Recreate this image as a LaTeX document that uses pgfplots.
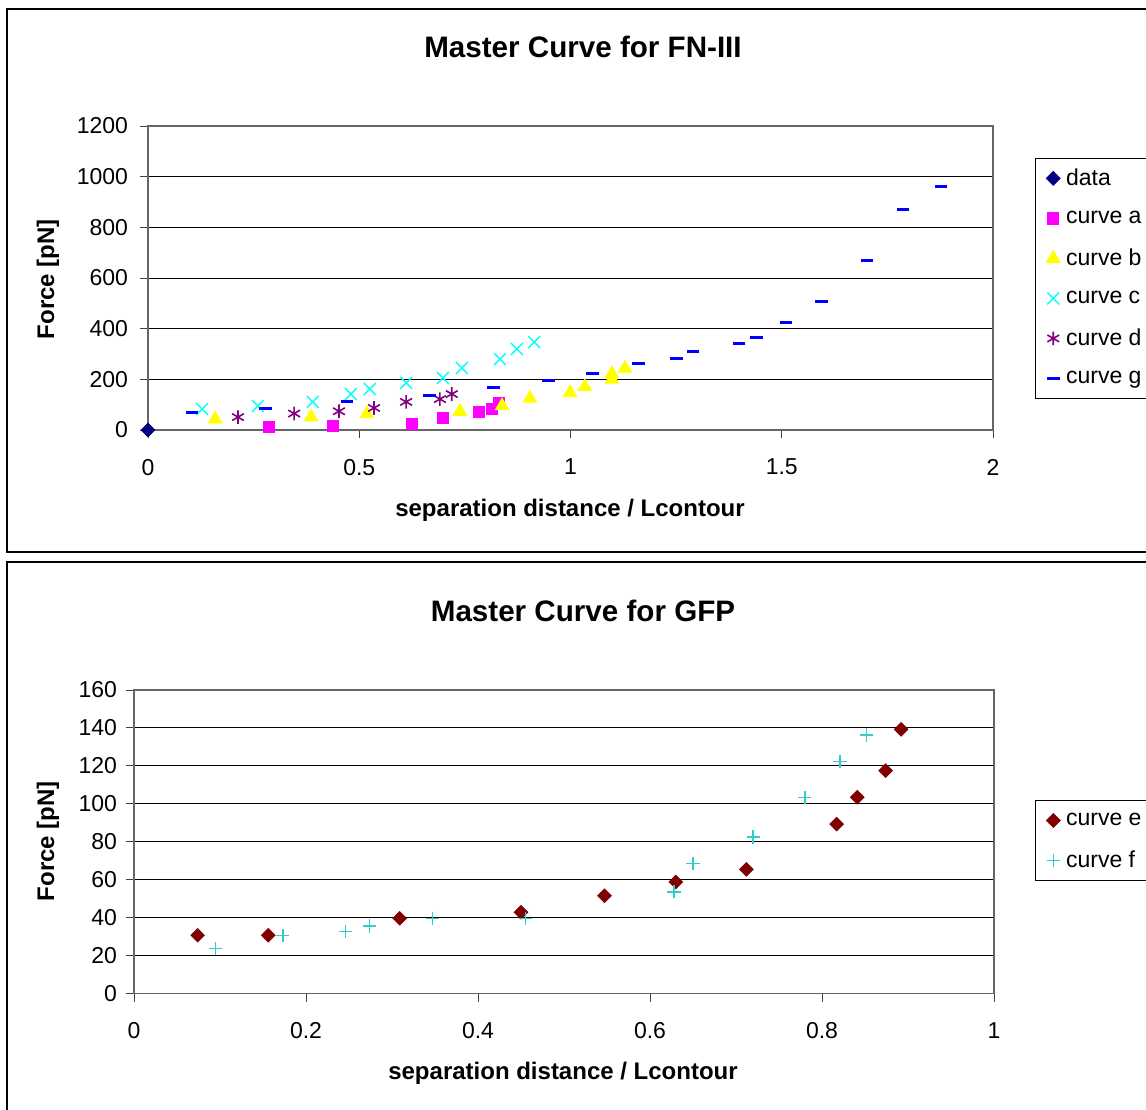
\documentclass[border=0pt]{standalone}
\usepackage{fontspec}
\setmainfont{Liberation Sans}
\usepackage{pgfplots}
\pgfplotsset{compat=1.18}

\definecolor{xnavy}{HTML}{000080}
\definecolor{xmag}{HTML}{FF00FF}
\definecolor{xyel}{HTML}{FFFF00}
\definecolor{xcyan}{HTML}{00FFFF}
\definecolor{xpurp}{HTML}{800080}
\definecolor{xblue}{HTML}{0000FF}
\definecolor{xmaroon}{HTML}{800000}
\definecolor{xteal}{HTML}{33CCCC}

\pgfplotsset{
  excel/.style={
    scale only axis, clip=false,
    ymajorgrids, grid style={black, line width=0.5pt},
    axis line style={draw=black!60, line width=0.6pt},
    tick align=outside, tick pos=left,
    major tick length=4pt,
    tick style={black!75, line width=0.5pt},
    ticklabel style={font=\fontsize{11.5}{13}\selectfont},
    xticklabel style={yshift=-7pt},
    /pgf/number format/assume math mode=true,
    /pgf/number format/1000 sep={},
    scaled ticks=false,
    legend cell align=left,
    legend style={draw=black, line width=0.5pt, anchor=north west,
      font=\fontsize{11.5}{13}\selectfont, row sep=0pt, inner xsep=5.5pt,
      inner ysep=0pt, nodes={minimum height=20pt, inner xsep=3pt}},
  },
}

\begin{document}
\begin{tikzpicture}
\path[use as bounding box] (0,0) rectangle (573pt,-554.5pt);
\clip (0,0) rectangle (573pt,-554.5pt);
\draw[line width=1pt] (3.5pt,-4.5pt) rectangle (585pt,-276pt);
\draw[line width=1pt] (3.5pt,-281pt) rectangle (585pt,-565pt);

% top chart
\node[font=\bfseries\fontsize{14.8}{16}\selectfont] at (291.5pt,-23.5pt) {Master Curve for FN-III};
\node[font=\bfseries\fontsize{12}{14}\selectfont] at (285pt,-255pt) {separation distance / Lcontour};
\node[font=\bfseries\fontsize{12}{14}\selectfont, rotate=90] at (24pt,-139.5pt) {Force [pN]};

\begin{axis}[excel,
  at={(74pt,-215pt)}, anchor=south west,
  width=422.5pt, height=152pt,
  xmin=0, xmax=2, ymin=0, ymax=1200,
  xtick={0,0.5,1,1.5,2}, ytick={0,200,...,1200},
  yticklabel style={xshift=-2.5pt},
  legend style={at={(1.0497,0.895)}},
]
\addplot[only marks, mark=square*, mark size=2.4pt, mark options={rotate=45, draw=xnavy, fill=xnavy}]
  coordinates {(0,0)};
\addlegendentry{data}
\addplot[only marks, mark=square*, mark size=2.8pt, mark options={draw=xmag, fill=xmag}]
  coordinates {(0.286,12) (0.438,17) (0.625,25) (0.698,47) (0.783,71) (0.814,83) (0.831,108)};
\addlegendentry{curve a\hspace{4pt}}
\addplot[only marks, mark=triangle*, mark size=3.9pt, mark options={draw=xyel, fill=xyel}]
  coordinates {(0.159,43) (0.386,51) (0.518,64) (0.738,73) (0.838,95) (0.904,125)
  (0.999,147) (1.034,170) (1.098,200) (1.098,222) (1.129,243)};
\addlegendentry{curve b\hspace{4pt}}
\addplot[only marks, mark=x, mark size=4.2pt, mark options={draw=xcyan, line width=0.7pt}]
  coordinates {(0.128,83) (0.260,95) (0.390,111) (0.480,142) (0.525,162) (0.611,186)
  (0.698,205) (0.743,245) (0.833,280) (0.873,320) (0.914,347)};
\addlegendentry{curve c}
\addplot[only marks, mark=asterisk, mark size=3.4pt, mark options={draw=xpurp, line width=0.8pt}]
  coordinates {(0.213,51) (0.346,65) (0.452,74) (0.535,87) (0.611,111) (0.691,122) (0.719,142)};
\addlegendentry{curve d\hspace{4pt}}
\addplot[only marks, mark=-, mark size=3.2pt, mark options={draw=xblue, line width=1.5pt}]
  coordinates {(0.104,71) (0.279,83) (0.471,114) (0.667,138) (0.817,166) (0.947,197)
  (1.053,225) (1.160,264) (1.250,284) (1.290,308) (1.399,343) (1.441,367)
  (1.510,426) (1.595,508) (1.702,670) (1.787,870) (1.877,963)};
\addlegendentry{curve g\hspace{4pt}}
\end{axis}

% bottom chart
\node[font=\bfseries\fontsize{14.8}{16}\selectfont] at (291.5pt,-305.5pt) {Master Curve for GFP};
\node[font=\bfseries\fontsize{12}{14}\selectfont] at (281.5pt,-536.5pt) {separation distance / Lcontour};
\node[font=\bfseries\fontsize{12}{14}\selectfont, rotate=90] at (24pt,-420.5pt) {Force [pN]};

\begin{axis}[excel,
  at={(67pt,-496.85pt)}, anchor=south west,
  width=430pt, height=151.85pt,
  xmin=0, xmax=1, ymin=0, ymax=160,
  xtick={0,0.2,...,1}, ytick={0,20,...,160},
  yticklabel style={xshift=-1pt},
  legend style={at={(1.0477,0.638)}},
]
\addplot[only marks, mark=square*, mark size=2.4pt, mark options={rotate=45, draw=xmaroon, fill=xmaroon}]
  coordinates {(0.074,30.8) (0.156,30.8) (0.309,39.7) (0.450,42.9) (0.547,51.6) (0.630,58.9)
  (0.712,65.5) (0.817,89.4) (0.841,103.5) (0.874,117.5) (0.892,139.3)};
\addlegendentry{curve e\hspace{4pt}}
\addplot[only marks, mark=+, mark size=3.3pt, mark options={draw=xteal, line width=0.75pt}]
  coordinates {(0.095,23.7) (0.173,30.8) (0.246,32.9) (0.274,35.7) (0.347,39.7) (0.455,39.7)
  (0.628,53.7) (0.650,68.7) (0.720,82.6) (0.780,103.5) (0.821,122.4) (0.852,136.3)};
\addlegendentry{curve f}
\end{axis}
\end{tikzpicture}
\end{document}
